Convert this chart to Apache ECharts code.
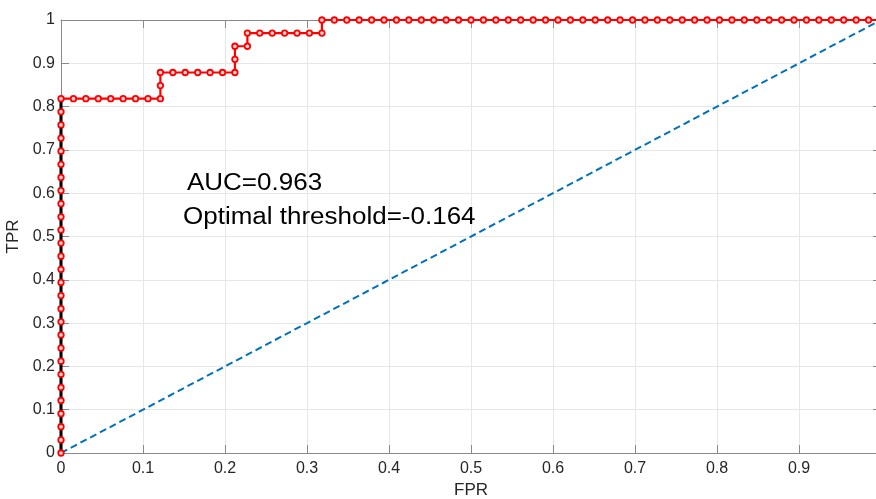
<!DOCTYPE html>
<html>
<head>
<meta charset="utf-8">
<title>ROC</title>
<script src="https://cdn.jsdelivr.net/npm/echarts@6/dist/echarts.min.js"></script>
<style>
  html, body { margin: 0; padding: 0; background: #fff; overflow: hidden; }
  #chart { width: 884px; height: 499px; }
</style>
</head>
<body>
<div id="chart"></div>
<script>
// ROC curve points (false positive rate / true positive rate)
const fpr = [
  0, 0, 0, 0, 0, 0, 0, 0, 0, 0, 0, 0, 0, 0, 0, 0, 0, 0, 0, 0, 0, 0, 0, 0, 0, 0, 0, 0,
  0.0152, 0.0303, 0.0455, 0.0606, 0.0758, 0.0909, 0.1061, 0.1212,
  0.1212, 0.1212,
  0.1364, 0.1515, 0.1667, 0.1818, 0.1970, 0.2121,
  0.2121, 0.2121,
  0.2273,
  0.2273,
  0.2424, 0.2576, 0.2727, 0.2879, 0.3030, 0.3182,
  0.3182,
  0.3333, 0.3485, 0.3636, 0.3788, 0.3939, 0.4091, 0.4242, 0.4394, 0.4545, 0.4697,
  0.4848, 0.5000, 0.5152, 0.5303, 0.5455, 0.5606, 0.5758, 0.5909, 0.6061, 0.6212,
  0.6364, 0.6515, 0.6667, 0.6818, 0.6970, 0.7121, 0.7273, 0.7424, 0.7576, 0.7727,
  0.7879, 0.8030, 0.8182, 0.8333, 0.8485, 0.8636, 0.8788, 0.8939, 0.9091, 0.9242,
  0.9394, 0.9545, 0.9697, 0.9848, 1.0000
];
const tpr = [
  0.0000, 0.0303, 0.0606, 0.0909, 0.1212, 0.1515, 0.1818, 0.2121, 0.2424, 0.2727,
  0.3030, 0.3333, 0.3636, 0.3939, 0.4242, 0.4545, 0.4848, 0.5152, 0.5455, 0.5758,
  0.6061, 0.6364, 0.6667, 0.6970, 0.7273, 0.7576, 0.7879, 0.8182,
  0.8182, 0.8182, 0.8182, 0.8182, 0.8182, 0.8182, 0.8182, 0.8182,
  0.8485, 0.8788,
  0.8788, 0.8788, 0.8788, 0.8788, 0.8788, 0.8788,
  0.9091, 0.9394,
  0.9394,
  0.9697,
  0.9697, 0.9697, 0.9697, 0.9697, 0.9697, 0.9697,
  1.0000,
  1, 1, 1, 1, 1, 1, 1, 1, 1, 1, 1, 1, 1, 1, 1, 1, 1, 1, 1, 1, 1, 1, 1, 1, 1,
  1, 1, 1, 1, 1, 1, 1, 1, 1, 1, 1, 1, 1, 1, 1, 1, 1, 1, 1, 1
];

// Zero-FPR segment highlighted in black
const zeroFpr = [0, 0];
const zeroTpr = [0, 0.8182];

// Chance line
const chanceFpr = [0, 1];
const chanceTpr = [0, 1];

const tickValues = ['0', '0.1', '0.2', '0.3', '0.4', '0.5', '0.6', '0.7', '0.8', '0.9', '1'];

const aucText = 'AUC=0.963';
const thresholdText = 'Optimal threshold=-0.164';

const pairs = (xs, ys) => xs.map((x, i) => [x, ys[i]]);

const AXIS_GRAY = '#8a8a8a';
const GRID_GRAY = '#e6e6e6';
const TEXT = '#262626';
const FONT = 'Liberation Sans, Arial, sans-serif';

const fmt = v => tickValues[Math.round(v * 10)] ?? String(v);

const chart = echarts.init(document.getElementById('chart'), null, { renderer: 'canvas' });

chart.setOption({
  animation: false,
  backgroundColor: '#fff',
  grid: { left: 61, right: 3, top: 20, bottom: 46, containLabel: false, outerBoundsMode: 'none' },
  xAxis: [
    {
      type: 'value', min: 0, max: 1, interval: 0.1,
      name: 'FPR', nameLocation: 'middle', nameGap: 29,
      nameTextStyle: { fontFamily: FONT, fontSize: 17, color: TEXT },
      axisLine: { show: true, onZero: false, lineStyle: { color: AXIS_GRAY, width: 1 } },
      axisTick: { show: true, inside: true, length: 8, lineStyle: { color: AXIS_GRAY } },
      axisLabel: { show: true, margin: 8, fontFamily: FONT, fontSize: 16, color: TEXT,
                   formatter: fmt, showMaxLabel: true, showMinLabel: true, hideOverlap: false },
      splitLine: { show: true, lineStyle: { color: GRID_GRAY, width: 1 } }
    },
    {
      type: 'value', min: 0, max: 1, interval: 0.1, position: 'top',
      axisLine: { show: true, onZero: false, lineStyle: { color: AXIS_GRAY, width: 1 } },
      axisTick: { show: true, inside: true, length: 8, lineStyle: { color: AXIS_GRAY } },
      axisLabel: { show: false },
      splitLine: { show: false }
    }
  ],
  yAxis: [
    {
      type: 'value', min: 0, max: 1, interval: 0.1,
      name: 'TPR', nameLocation: 'middle', nameGap: 33,
      nameTextStyle: { fontFamily: FONT, fontSize: 17, color: TEXT },
      axisLine: { show: true, onZero: false, lineStyle: { color: AXIS_GRAY, width: 1 } },
      axisTick: { show: true, inside: true, length: 8, lineStyle: { color: AXIS_GRAY } },
      axisLabel: { show: true, margin: 6, fontFamily: FONT, fontSize: 16, color: TEXT,
                   formatter: fmt },
      splitLine: { show: true, lineStyle: { color: GRID_GRAY, width: 1 } }
    },
    {
      type: 'value', min: 0, max: 1, interval: 0.1, position: 'right',
      axisLine: { show: true, onZero: false, lineStyle: { color: AXIS_GRAY, width: 1 } },
      axisTick: { show: true, inside: true, length: 8, lineStyle: { color: AXIS_GRAY } },
      axisLabel: { show: false },
      splitLine: { show: false }
    }
  ],
  series: [
    {
      name: 'chance',
      type: 'line',
      data: pairs(chanceFpr, chanceTpr),
      showSymbol: false,
      lineStyle: { color: '#0072bd', width: 2, type: [7, 4] },
      z: 2
    },
    {
      name: 'roc',
      type: 'line',
      data: pairs(fpr, tpr),
      showSymbol: false,
      lineStyle: { color: '#ff0000', width: 2.2 },
      z: 3
    },
    {
      name: 'zero-fpr',
      type: 'line',
      data: pairs(zeroFpr, zeroTpr),
      showSymbol: false,
      lineStyle: { color: '#000000', width: 3 },
      z: 4
    },
    {
      name: 'roc points',
      type: 'scatter',
      data: pairs(fpr, tpr),
      symbol: 'circle',
      symbolSize: 5.5,
      itemStyle: { color: '#ffd6d6', borderColor: '#ff0000', borderWidth: 1.8, opacity: 1 },
      z: 5
    }
  ],
  graphic: [
    {
      type: 'text', x: 187, y: 184, scaleX: 1.13, z: 100,
      style: { text: aucText, fontSize: 23, fontFamily: FONT, fill: '#000',
               align: 'left', verticalAlign: 'middle' }
    },
    {
      type: 'text', x: 183, y: 218, scaleX: 1.13, z: 100,
      style: { text: thresholdText, fontSize: 23, fontFamily: FONT, fill: '#000',
               align: 'left', verticalAlign: 'middle' }
    }
  ]
});
</script>
</body>
</html>
